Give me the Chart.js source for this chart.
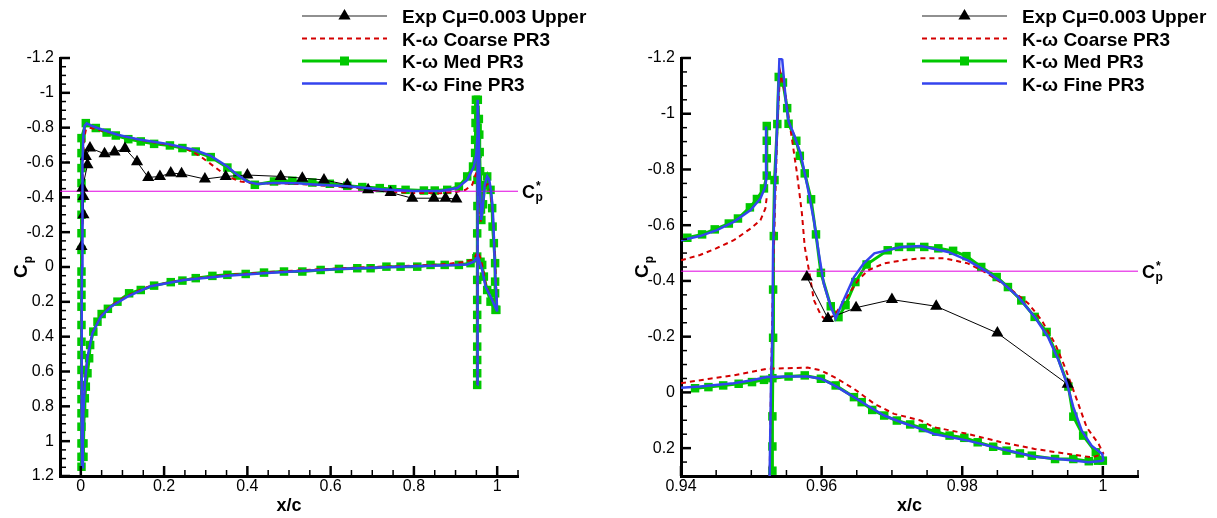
<!DOCTYPE html>
<html><head><meta charset="utf-8">
<script src="https://cdn.jsdelivr.net/npm/chart.js@4.4.1/dist/chart.umd.min.js"></script>
<style>
html,body{margin:0;padding:0;background:#fff;width:1217px;height:518px;overflow:hidden}
canvas{position:absolute;top:0}
#c1{left:0}
#c2{left:600px}
</style></head><body>
<canvas id="c1" width="600" height="518"></canvas>
<canvas id="c2" width="617" height="518"></canvas>
<script>
// ---------- legend / series names ----------
const seriesNames = ['Exp C\u03bc=0.003 Upper', 'K-\u03c9 Coarse PR3', 'K-\u03c9 Med PR3', 'K-\u03c9 Fine PR3'];
const cpStar = -0.435;

// ---------- axis ticks ----------
const leftXTickLabels = ['0','0.2','0.4','0.6','0.8','1'];
const leftYTickLabels = ['-1.2','-1','-0.8','-0.6','-0.4','-0.2','0','0.2','0.4','0.6','0.8','1','1.2'];
const rightXTickLabels = ['0.94','0.96','0.98','1'];
const rightYTickLabels = ['-1.2','-1','-0.8','-0.6','-0.4','-0.2','0','0.2'];

// ---------- LEFT chart data (x/c, Cp) ----------
const leftExp = [[0.0016,-0.117],[0.0064,-0.30],[0.0064,-0.405],[0.004,-0.453],[0.016,-0.587],[0.012,-0.634],[0.022,-0.683],[0.057,-0.65],[0.081,-0.66],[0.106,-0.681],[0.135,-0.604],[0.162,-0.514],[0.19,-0.52],[0.216,-0.539],[0.242,-0.535],[0.298,-0.505],[0.348,-0.52],[0.40,-0.528],[0.48,-0.52],[0.532,-0.51],[0.584,-0.50],[0.64,-0.472],[0.69,-0.443],[0.744,-0.428],[0.796,-0.395],[0.848,-0.395],[0.876,-0.395],[0.902,-0.39]];

const leftFineUpper = [[0.003,1.15],[0.0025,1.0],[0.002,0.8],[0.002,0.6],[0.0022,0.4],[0.0025,0.2],[0.003,0.0],[0.0035,-0.2],[0.004,-0.4],[0.0045,-0.6],[0.006,-0.75],[0.009,-0.81],[0.014,-0.825],[0.025,-0.812],[0.04,-0.798],[0.088,-0.759],[0.144,-0.73],[0.208,-0.707],[0.272,-0.673],[0.312,-0.638],[0.352,-0.577],[0.376,-0.529],[0.40,-0.49],[0.424,-0.476],[0.464,-0.483],[0.52,-0.481],[0.56,-0.474],[0.64,-0.463],[0.72,-0.446],[0.80,-0.436],[0.864,-0.436],[0.904,-0.453],[0.928,-0.50],[0.944,-0.577],[0.95,-0.65],[0.9525,-0.75],[0.9535,-0.96]];
const leftFineLower = [[0.003,1.15],[0.005,0.95],[0.006,0.84],[0.01,0.66],[0.016,0.515],[0.028,0.38],[0.048,0.285],[0.072,0.228],[0.112,0.17],[0.144,0.135],[0.168,0.11],[0.248,0.075],[0.352,0.05],[0.448,0.034],[0.52,0.024],[0.62,0.012],[0.70,0.004],[0.80,-0.004],[0.864,-0.008],[0.928,-0.015],[0.944,-0.031],[0.9535,-0.06],[0.958,-0.03],[0.964,0.017],[0.972,0.113],[0.984,0.17],[1.0,0.256]];
const leftFineFlap = [[0.9525,0.677],[0.9525,0.3],[0.9528,0.0],[0.953,-0.5],[0.9535,-0.96],[0.9555,-0.8],[0.958,-0.5],[0.9615,-0.27],[0.965,-0.33],[0.97,-0.47],[0.976,-0.52],[0.981,-0.5],[0.985,-0.44],[0.988,-0.37],[0.991,-0.25],[0.993,-0.1],[0.996,0.08],[0.999,0.2],[1.0,0.256]];

const leftCoarseUpper = [[0.003,1.15],[0.0025,1.0],[0.002,0.8],[0.002,0.6],[0.0022,0.4],[0.0025,0.2],[0.003,0.0],[0.0035,-0.2],[0.004,-0.4],[0.005,-0.6],[0.008,-0.74],[0.012,-0.785],[0.02,-0.8],[0.03,-0.795],[0.06,-0.777],[0.10,-0.752],[0.15,-0.726],[0.2,-0.706],[0.25,-0.684],[0.288,-0.634],[0.32,-0.577],[0.352,-0.52],[0.384,-0.491],[0.42,-0.478],[0.47,-0.48],[0.52,-0.477],[0.6,-0.465],[0.7,-0.446],[0.75,-0.432],[0.80,-0.425],[0.864,-0.424],[0.904,-0.432],[0.924,-0.443],[0.94,-0.472],[0.948,-0.53],[0.9522,-0.55]];
const leftCoarseLower = [[0.003,1.15],[0.005,0.95],[0.006,0.84],[0.01,0.66],[0.016,0.51],[0.028,0.375],[0.048,0.28],[0.072,0.222],[0.112,0.165],[0.144,0.13],[0.168,0.108],[0.248,0.072],[0.352,0.046],[0.448,0.03],[0.52,0.02],[0.62,0.008],[0.70,0.0],[0.80,-0.008],[0.864,-0.014],[0.92,-0.028],[0.944,-0.045],[0.9535,-0.089],[0.96,-0.05],[0.966,0.01],[0.972,0.093],[0.982,0.16],[1.0,0.245]];
const leftCoarseFlap = [[0.9525,0.677],[0.9525,0.3],[0.9528,0.0],[0.953,-0.5],[0.9538,-0.93],[0.956,-0.7],[0.958,-0.45],[0.9605,-0.26],[0.964,-0.33],[0.968,-0.43],[0.974,-0.475],[0.979,-0.475],[0.984,-0.43],[0.989,-0.32],[0.992,-0.2],[0.995,-0.05],[0.998,0.14],[1.0,0.22]];

const leftMedUpper = [[0.0016,1.147],[0.0016,1.09],[0.0016,1.013],[0.0016,0.917],[0.0016,0.84],[0.0016,0.759],[0.0016,0.678],[0.0016,0.591],[0.0016,0.505],[0.0016,0.429],[0.0016,0.333],[0.0016,0.228],[0.0016,0.16],[0.0016,0.093],[0.0016,0.026],[0.0016,-0.098],[0.0016,-0.194],[0.0016,-0.30],[0.0016,-0.395],[0.0016,-0.482],[0.0016,-0.568],[0.0016,-0.654],[0.0016,-0.74],[0.012,-0.826],[0.036,-0.798],[0.062,-0.772],[0.084,-0.755],[0.114,-0.734],[0.144,-0.721],[0.176,-0.707],[0.214,-0.698],[0.244,-0.683],[0.276,-0.663],[0.312,-0.631],[0.352,-0.571],[0.376,-0.525],[0.418,-0.472],[0.464,-0.491],[0.508,-0.495],[0.556,-0.485],[0.598,-0.478],[0.64,-0.466],[0.676,-0.459],[0.718,-0.453],[0.748,-0.447],[0.78,-0.443],[0.824,-0.439],[0.85,-0.439],[0.88,-0.443],[0.908,-0.462],[0.928,-0.52],[0.942,-0.577],[0.947,-0.655],[0.947,-0.73],[0.948,-0.827],[0.948,-0.902],[0.949,-0.96]];
const leftMedLower = [[0.0064,1.09],[0.0064,1.013],[0.008,0.84],[0.0096,0.754],[0.012,0.687],[0.016,0.61],[0.02,0.524],[0.0224,0.448],[0.03,0.371],[0.04,0.314],[0.05,0.27],[0.065,0.24],[0.088,0.199],[0.116,0.151],[0.144,0.132],[0.176,0.107],[0.216,0.087],[0.244,0.078],[0.276,0.064],[0.316,0.051],[0.352,0.045],[0.396,0.04],[0.44,0.032],[0.488,0.026],[0.532,0.026],[0.576,0.017],[0.62,0.011],[0.664,0.007],[0.696,0.007],[0.734,-0.002],[0.768,-0.002],[0.808,-0.002],[0.84,-0.012],[0.874,-0.012],[0.908,-0.012],[0.936,-0.022],[0.95,-0.05],[0.96,-0.03],[0.964,-0.012],[0.968,0.055],[0.976,0.132],[0.984,0.199],[0.996,0.246]];
const leftMedFlap = [[0.952,0.677],[0.952,0.61],[0.952,0.534],[0.952,0.457],[0.952,0.352],[0.952,0.275],[0.952,0.189],[0.952,0.074],[0.952,-0.06],[0.952,-0.193],[0.9525,-0.35],[0.9525,-0.5],[0.953,-0.65],[0.953,-0.8],[0.9535,-0.96],[0.956,-0.85],[0.957,-0.76],[0.958,-0.66],[0.959,-0.55],[0.96,-0.44],[0.961,-0.33],[0.962,-0.27],[0.966,-0.36],[0.97,-0.47],[0.976,-0.52],[0.984,-0.443],[0.988,-0.338],[0.989,-0.232],[0.992,-0.137],[0.995,-0.022],[0.995,0.084],[0.995,0.151],[0.998,0.246]];

// ---------- RIGHT chart data (zoom on trailing edge) ----------
const rightExp = [[0.9579,-0.414],[0.9609,-0.265],[0.9649,-0.304],[0.97,-0.333],[0.9763,-0.309],[0.985,-0.213],[0.995,-0.029]];

const rightFineUpper = [[0.94,-0.546],[0.9427,-0.561],[0.9451,-0.582],[0.9475,-0.612],[0.9499,-0.654],[0.9513,-0.696],[0.952,-0.738],[0.9522,-0.786],[0.9521,-0.954]];
const rightFineFlap = [[0.9526,0.31],[0.9528,-0.031],[0.953,-0.211],[0.9531,-0.51],[0.9534,-0.762],[0.9538,-1.05],[0.954,-1.2],[0.9544,-1.194],[0.9549,-1.05],[0.9553,-0.972],[0.956,-0.93],[0.957,-0.858],[0.958,-0.738],[0.9589,-0.618],[0.9596,-0.499],[0.9603,-0.391],[0.9613,-0.307],[0.962,-0.265],[0.9627,-0.307],[0.9646,-0.414],[0.966,-0.463],[0.9675,-0.499],[0.9713,-0.522],[0.9741,-0.525],[0.978,-0.504],[0.9808,-0.474],[0.9832,-0.438],[0.9856,-0.396],[0.988,-0.342],[0.9903,-0.271],[0.9922,-0.199],[0.9937,-0.115],[0.9949,-0.031],[0.9958,0.053],[0.997,0.137],[0.9984,0.191],[0.9999,0.221],[1.0001,0.245]];
const rightFineLower = [[0.94,-0.017],[0.9427,-0.021],[0.9475,-0.033],[0.9499,-0.043],[0.9522,-0.055],[0.9551,-0.057],[0.958,-0.057],[0.9599,-0.049],[0.9618,-0.025],[0.9646,0.017],[0.9665,0.047],[0.9689,0.083],[0.9713,0.107],[0.9741,0.131],[0.976,0.149],[0.9808,0.173],[0.9856,0.203],[0.9903,0.231],[0.9951,0.243],[0.998,0.251],[1.0001,0.245]];

const rightCoarseUpper = [[0.94,-0.474],[0.9427,-0.493],[0.945,-0.517],[0.9475,-0.546],[0.9499,-0.588],[0.9513,-0.618],[0.952,-0.66],[0.9522,-0.702]];
const rightCoarseFlap = [[0.9526,0.31],[0.9528,-0.03],[0.953,-0.3],[0.9533,-0.6],[0.9537,-0.95],[0.9541,-1.152],[0.9549,-1.062],[0.9553,-0.99],[0.9558,-0.906],[0.9565,-0.786],[0.9572,-0.642],[0.9576,-0.522],[0.9582,-0.438],[0.9589,-0.331],[0.9599,-0.277],[0.9606,-0.259],[0.9618,-0.277],[0.9633,-0.331],[0.9652,-0.403],[0.9666,-0.438],[0.9689,-0.463],[0.9722,-0.477],[0.9741,-0.481],[0.9775,-0.481],[0.9808,-0.463],[0.9832,-0.432],[0.9865,-0.378],[0.9894,-0.319],[0.9913,-0.259],[0.9932,-0.175],[0.9946,-0.091],[0.996,0.005],[0.9977,0.125],[0.9994,0.185],[1.0001,0.221]];
const rightCoarseLower = [[0.94,-0.033],[0.9441,-0.049],[0.9475,-0.061],[0.9499,-0.073],[0.9522,-0.085],[0.9551,-0.087],[0.958,-0.089],[0.9599,-0.079],[0.9618,-0.055],[0.9646,-0.013],[0.9675,0.041],[0.9703,0.077],[0.9741,0.101],[0.976,0.125],[0.9808,0.149],[0.9856,0.179],[0.9903,0.203],[0.9951,0.221],[0.9984,0.233],[1.0001,0.221]];

const rightMedUpper = [[0.9409,-0.555],[0.943,-0.567],[0.9448,-0.585],[0.9468,-0.606],[0.9481,-0.624],[0.9498,-0.664],[0.9508,-0.694],[0.9518,-0.732],[0.9522,-0.778],[0.9522,-0.84],[0.9522,-0.903],[0.9522,-0.956]];
const rightMedFlap = [[0.953,0.281],[0.953,0.194],[0.953,0.086],[0.9531,-0.196],[0.9531,-0.369],[0.9532,-0.561],[0.9533,-0.762],[0.9537,-0.963],[0.9539,-1.132],[0.9545,-1.112],[0.9551,-1.02],[0.9553,-0.964],[0.9564,-0.903],[0.9569,-0.849],[0.9576,-0.786],[0.9585,-0.693],[0.9592,-0.567],[0.9599,-0.429],[0.9613,-0.309],[0.9624,-0.27],[0.9634,-0.313],[0.9648,-0.396],[0.9664,-0.459],[0.9694,-0.51],[0.971,-0.522],[0.9727,-0.522],[0.9746,-0.522],[0.9766,-0.517],[0.9787,-0.508],[0.9806,-0.489],[0.9827,-0.45],[0.9849,-0.414],[0.9865,-0.378],[0.9884,-0.33],[0.9903,-0.271],[0.992,-0.217],[0.9934,-0.139],[0.9951,-0.021],[0.9958,0.087],[0.9972,0.155],[0.999,0.215],[1.0,0.245]];
const rightMedLower = [[0.942,-0.015],[0.9439,-0.019],[0.946,-0.025],[0.9482,-0.031],[0.9501,-0.037],[0.9518,-0.045],[0.953,-0.051],[0.9553,-0.057],[0.9576,-0.061],[0.9599,-0.049],[0.962,-0.025],[0.9646,0.017],[0.9657,0.035],[0.9672,0.063],[0.9689,0.083],[0.9707,0.101],[0.9726,0.115],[0.9744,0.128],[0.9763,0.141],[0.9782,0.155],[0.9803,0.163],[0.9822,0.179],[0.9844,0.195],[0.9863,0.209],[0.9882,0.219],[0.9899,0.227],[0.9932,0.239],[0.9958,0.239],[0.998,0.247],[0.9993,0.245]];

// ---------- styling ----------
const FONT = "'Liberation Sans', Arial, Helvetica, sans-serif";
const BLUE = '#3444ee', GREEN = '#00c800', RED = '#d40000', MAGENTA = '#e000e0';

function toPts(...segs) {
  const out = [];
  segs.forEach((s, i) => {
    if (i > 0) out.push({x: s[0][0], y: null});
    s.forEach(p => out.push({x: p[0], y: p[1]}));
  });
  return out;
}

function makeDatasets(fine, exp, coarse, med, xMin, xMax) {
  return [
    {label: seriesNames[3], data: fine, borderColor: BLUE, borderWidth: 2.5, pointRadius: 0},
    {label: seriesNames[0], data: exp, borderColor: '#000', borderWidth: 1, pointStyle: 'triangle', pointRadius: 7,
     pointBackgroundColor: '#000', pointBorderColor: '#000', pointBorderWidth: 0},
    {label: 'Cp*', data: toPts([[xMin, cpStar], [xMax, cpStar]]), borderColor: MAGENTA, borderWidth: 1, pointRadius: 0},
    {label: seriesNames[1], data: coarse, borderColor: RED, borderWidth: 2, borderDash: [5, 4], pointRadius: 0},
    {label: seriesNames[2], data: med, borderColor: GREEN, borderWidth: 3, pointStyle: 'rect', pointRadius: 6,
     pointBackgroundColor: GREEN, pointBorderColor: GREEN, pointBorderWidth: 0}
  ];
}

function decor(cfg) {
  return {
    id: 'decor',
    afterDraw(chart) {
      const ctx = chart.ctx, xs = chart.scales.x, ys = chart.scales.y, a = chart.chartArea;
      ctx.save();
      ctx.strokeStyle = '#000';
      const xt = cfg.xLabels.map(parseFloat), yt = cfg.yLabels.map(parseFloat);
      const nx = Math.round((cfg.xMax - cfg.xMin) / cfg.xMinor);
      for (let i = 0; i <= nx; i++) {
        const v = cfg.xMin + i * cfg.xMinor;
        const major = xt.some(t => Math.abs(t - v) < 1e-7);
        const px = xs.getPixelForValue(v);
        ctx.lineWidth = major ? 2.5 : 1.5;
        ctx.beginPath(); ctx.moveTo(px, a.bottom); ctx.lineTo(px, a.bottom - (major ? 10 : 6)); ctx.stroke();
      }
      const ny = Math.round((cfg.yMax - cfg.yMin) / cfg.yMinor);
      for (let i = 0; i <= ny; i++) {
        const v = cfg.yMin + i * cfg.yMinor;
        const major = yt.some(t => Math.abs(t - v) < 1e-7);
        const py = ys.getPixelForValue(v);
        ctx.lineWidth = major ? 2.5 : 1.5;
        ctx.beginPath(); ctx.moveTo(a.left, py); ctx.lineTo(a.left + (major ? 10 : 6), py); ctx.stroke();
      }
      // legend
      const L = cfg.legend;
      const rows = [16, 38.5, 61, 83.5];
      const mid = (L.x0 + L.x1) / 2;
      rows.forEach((ry, i) => {
        ctx.setLineDash([]);
        if (i === 0) {
          ctx.strokeStyle = '#222'; ctx.lineWidth = 1.2;
          ctx.beginPath(); ctx.moveTo(L.x0, ry); ctx.lineTo(L.x1, ry); ctx.stroke();
          ctx.fillStyle = '#000';
          ctx.beginPath(); ctx.moveTo(mid, ry - 7); ctx.lineTo(mid + 6.1, ry + 3.5); ctx.lineTo(mid - 6.1, ry + 3.5); ctx.closePath(); ctx.fill();
        } else if (i === 1) {
          ctx.strokeStyle = RED; ctx.lineWidth = 2; ctx.setLineDash([5, 4]);
          ctx.beginPath(); ctx.moveTo(L.x0, ry); ctx.lineTo(L.x1, ry); ctx.stroke();
        } else if (i === 2) {
          ctx.strokeStyle = GREEN; ctx.lineWidth = 3;
          ctx.beginPath(); ctx.moveTo(L.x0, ry); ctx.lineTo(L.x1, ry); ctx.stroke();
          ctx.fillStyle = GREEN; ctx.fillRect(mid - 4.5, ry - 4.5, 9, 9);
        } else {
          ctx.strokeStyle = BLUE; ctx.lineWidth = 2.5;
          ctx.beginPath(); ctx.moveTo(L.x0, ry); ctx.lineTo(L.x1, ry); ctx.stroke();
        }
        ctx.setLineDash([]);
        ctx.fillStyle = '#000';
        ctx.font = 'bold 19px ' + FONT;
        ctx.textAlign = 'left'; ctx.textBaseline = 'alphabetic';
        ctx.fillText(seriesNames[i], L.xt, ry + 7);
      });
      // Cp* label
      const cy = ys.getPixelForValue(cpStar);
      ctx.font = 'bold 18px ' + FONT;
      ctx.fillText('C', cfg.cpLabelX, cy + 6.5);
      const wC = ctx.measureText('C').width;
      ctx.font = 'bold 12px ' + FONT;
      ctx.fillText('p', cfg.cpLabelX + wC + 0.5, cy + 10);
      ctx.fillText('*', cfg.cpLabelX + wC + 1, cy - 1);
      // x axis title
      ctx.font = 'bold 18px ' + FONT;
      ctx.textAlign = 'center';
      ctx.fillText('x/c', (a.left + a.right) / 2, 511);
      // y axis title
      ctx.save();
      ctx.translate(a.left - 33, 278);
      ctx.rotate(-Math.PI / 2);
      ctx.textAlign = 'left';
      ctx.font = 'bold 19px ' + FONT;
      ctx.fillText('C', 0, 0);
      const w2 = ctx.measureText('C').width;
      ctx.font = 'bold 12px ' + FONT;
      ctx.fillText('p', w2 + 1, 5);
      ctx.restore();
      ctx.restore();
    }
  };
}

function makeChart(id, cfg, datasets) {
  const xt = cfg.xLabels.map(parseFloat), yt = cfg.yLabels.map(parseFloat);
  return new Chart(document.getElementById(id), {
    type: 'line',
    data: {datasets},
    options: {
      responsive: false, animation: false, devicePixelRatio: 1, events: [],
      layout: {padding: {top: 58, right: cfg.padRight, left: 0, bottom: 0}},
      plugins: {legend: {display: false}, tooltip: {enabled: false}},
      scales: {
        x: {
          type: 'linear', min: cfg.xMin, max: cfg.xMax,
          afterBuildTicks: s => { s.ticks = xt.map(v => ({value: v})); },
          afterFit: s => { s.height = 42; },
          grid: {display: false, drawTicks: false, tickLength: 0},
          border: {display: true, color: '#000', width: 3},
          ticks: {autoSkip: false, maxRotation: 0, padding: 1, color: '#000',
                  font: {family: FONT, size: 16}, callback: (v, i) => cfg.xLabels[i]}
        },
        y: {
          type: 'linear', min: cfg.yMin, max: cfg.yMax, reverse: true,
          afterBuildTicks: s => { s.ticks = yt.map(v => ({value: v})); },
          afterFit: s => { s.width = cfg.yWidth; },
          grid: {display: false, drawTicks: false, tickLength: 0},
          border: {display: true, color: '#000', width: 3},
          ticks: {autoSkip: false, padding: 6, color: '#000',
                  font: {family: FONT, size: 16}, callback: (v, i) => cfg.yLabels[i]}
        }
      }
    },
    plugins: [decor(cfg)]
  });
}

const leftCfg = {xMin: -0.05, xMax: 1.05, xMinor: 0.05, yMin: -1.2, yMax: 1.2, yMinor: 0.05,
  xLabels: leftXTickLabels, yLabels: leftYTickLabels, padRight: 82, yWidth: 60,
  legend: {x0: 302, x1: 387, xt: 402}, cpLabelX: 522};
const rightCfg = {xMin: 0.94, xMax: 1.005, xMinor: 0.005, yMin: -1.2, yMax: 0.3, yMinor: 0.05,
  xLabels: rightXTickLabels, yLabels: rightYTickLabels, padRight: 79, yWidth: 81,
  legend: {x0: 322, x1: 407, xt: 422}, cpLabelX: 542};

makeChart('c1', leftCfg, makeDatasets(
  toPts(leftFineUpper, leftFineLower, leftFineFlap),
  toPts(leftExp),
  toPts(leftCoarseUpper, leftCoarseLower, leftCoarseFlap),
  toPts(leftMedUpper, leftMedLower, leftMedFlap),
  leftCfg.xMin, leftCfg.xMax));

makeChart('c2', rightCfg, makeDatasets(
  toPts(rightFineUpper, rightFineFlap, rightFineLower),
  toPts(rightExp),
  toPts(rightCoarseUpper, rightCoarseFlap, rightCoarseLower),
  toPts(rightMedUpper, rightMedFlap, rightMedLower),
  rightCfg.xMin, rightCfg.xMax));
</script>
</body></html>
